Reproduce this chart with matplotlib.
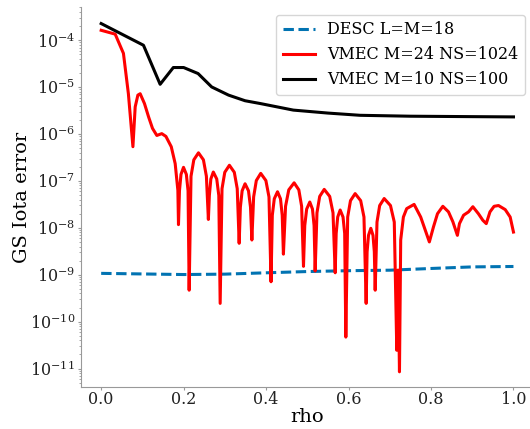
import matplotlib
matplotlib.use('Agg')
import matplotlib.pyplot as plt
import numpy as np

# DESC L=M=18
rho_desc = [0.0, 0.1, 0.2, 0.3, 0.4, 0.5, 0.6, 0.7, 0.8, 0.9, 1.0]
err_desc = [1.07e-9, 1.04e-9, 1.01e-9, 1.03e-9, 1.10e-9, 1.17e-9,
            1.22e-9, 1.25e-9, 1.36e-9, 1.47e-9, 1.50e-9]

# VMEC M=24 NS=1024
rho_vmec24 = [0.000, 0.034, 0.054, 0.066, 0.077, 0.0825, 0.089, 0.0946, 0.105, 0.115,
              0.1245, 0.135, 0.147, 0.157, 0.170, 0.1795, 0.186, 0.1875, 0.1899, 0.1936,
              0.1997, 0.2066, 0.2107, 0.2134, 0.2179, 0.2247, 0.236, 0.248, 0.2552, 0.260,
              0.2624, 0.266, 0.272, 0.2803, 0.2853, 0.2886, 0.2931, 0.2998, 0.311, 0.3229,
              0.330, 0.3347, 0.3376, 0.3419, 0.349, 0.3573, 0.3622, 0.3655, 0.3698, 0.3763,
              0.387, 0.3995, 0.407, 0.412, 0.4151, 0.4199, 0.4277, 0.4349, 0.4391, 0.442,
              0.4472, 0.455, 0.468, 0.4794, 0.4862, 0.4907, 0.4938, 0.4984, 0.506, 0.5125,
              0.5164, 0.519, 0.5234, 0.530, 0.541, 0.5543, 0.5623, 0.5676, 0.570, 0.5737,
              0.5797, 0.5866, 0.5906, 0.5934, 0.5979, 0.6047, 0.616, 0.6294, 0.6374, 0.6427,
              0.645, 0.6484, 0.654, 0.6593, 0.6625, 0.6646, 0.669, 0.6755, 0.6864, 0.7017,
              0.7109, 0.717, 0.720, 0.7235, 0.7265, 0.733, 0.741, 0.759, 0.775, 0.786,
              0.796, 0.806, 0.8157, 0.8287, 0.8424, 0.853, 0.864, 0.869, 0.879, 0.891,
              0.9015, 0.915, 0.9257, 0.934, 0.943, 0.953, 0.9637, 0.980, 0.992, 1.000]
err_vmec24 = [1.63e-4, 1.35e-4, 5.25e-5, 7.24e-6, 5.37e-7, 3.80e-6, 6.76e-6, 7.24e-6, 4.47e-6, 2.32e-6,
              1.32e-6, 9.33e-7, 1.02e-6, 8.91e-7, 5.37e-7, 2.34e-7, 6.31e-8, 1.17e-8, 6.17e-8, 1.38e-7,
              1.95e-7, 1.38e-7, 6.17e-8, 4.68e-10, 1.26e-7, 2.82e-7, 3.98e-7, 2.82e-7, 1.26e-7, 1.51e-8,
              4.90e-8, 1.10e-7, 1.55e-7, 1.10e-7, 4.90e-8, 2.45e-10, 6.84e-8, 1.53e-7, 2.16e-7, 1.53e-7,
              6.84e-8, 4.68e-9, 2.75e-8, 6.17e-8, 8.71e-8, 6.17e-8, 2.75e-8, 5.50e-9, 4.57e-8, 1.02e-7,
              1.45e-7, 1.02e-7, 4.57e-8, 7.08e-10, 1.86e-8, 4.17e-8, 5.89e-8, 4.17e-8, 1.86e-8, 2.75e-9,
              2.88e-8, 6.46e-8, 9.12e-8, 6.46e-8, 2.88e-8, 1.51e-9, 1.12e-8, 2.51e-8, 3.55e-8, 2.51e-8,
              1.12e-8, 1.20e-9, 2.09e-8, 4.68e-8, 6.61e-8, 4.68e-8, 2.09e-8, 1.10e-9, 7.59e-9, 1.70e-8,
              2.40e-8, 1.70e-8, 7.59e-9, 4.68e-11, 1.70e-8, 3.80e-8, 5.37e-8, 3.80e-8, 1.70e-8, 2.45e-10,
              3.09e-9, 6.92e-9, 9.77e-9, 6.92e-9, 3.09e-9, 4.68e-10, 1.33e-8, 2.99e-8, 4.22e-8, 2.99e-8,
              1.33e-8, 2.45e-11, 1.26e-9, 8.51e-12, 5.50e-9, 1.70e-8, 2.57e-8, 3.16e-8, 1.70e-8, 8.91e-9,
              5.01e-9, 1.05e-8, 2.00e-8, 2.88e-8, 2.19e-8, 1.35e-8, 6.92e-9, 1.23e-8, 1.86e-8, 2.19e-8,
              2.82e-8, 2.00e-8, 1.45e-8, 1.23e-8, 2.19e-8, 2.88e-8, 2.99e-8, 2.45e-8, 1.70e-8, 8.13e-9]

# VMEC M=10 NS=100
rho_vmec10 = [0.0, 0.1026, 0.143, 0.175, 0.2, 0.235, 0.268, 0.309, 0.349, 0.386,
              0.466, 0.55, 0.628, 0.75, 0.9, 1.0]
err_vmec10 = [2.27e-4, 7.82e-5, 1.15e-5, 2.62e-5, 2.62e-5, 1.95e-5, 1.01e-5, 6.76e-6, 5.13e-6, 4.47e-6,
              3.24e-6, 2.80e-6, 2.51e-6, 2.40e-6, 2.35e-6, 2.32e-6]

plt.rcParams['font.family'] = 'DejaVu Serif'
plt.rcParams['mathtext.fontset'] = 'dejavuserif'
plt.rcParams['axes.unicode_minus'] = False

fig = plt.figure(figsize=(5.3, 4.29), dpi=100)
ax = fig.add_axes([0.152, 0.0986, 0.8557, 0.884])

ax.semilogy(rho_desc, err_desc, color='#0173b2', lw=2.2, ls='--', dashes=(3.4, 1.5),
            label='DESC L=M=18')
ax.semilogy(rho_vmec24, err_vmec24, color='red', lw=2.2, label='VMEC M=24 NS=1024')
ax.semilogy(rho_vmec10, err_vmec10, color='black', lw=2.2, label='VMEC M=10 NS=100')

ax.set_xlim(-0.05, 1.05)
ax.set_ylim(4.1e-12, 5.0e-4)

ax.spines['top'].set_visible(False)
ax.spines['right'].set_visible(False)
for s in ['left', 'bottom']:
    ax.spines[s].set_color('#999999')
ax.tick_params(which='both', colors='#999999', labelcolor='#222222', labelsize=11.5, pad=1.5)
ax.tick_params(axis='x', pad=0.8)
ax.tick_params(which='major', length=2.5)
ax.tick_params(which='minor', length=1.5)

ax.set_xlabel('rho', fontsize=14, labelpad=0)
ax.set_ylabel('GS Iota error', fontsize=14, labelpad=-1)

ax.legend(loc='upper right', bbox_to_anchor=(525 / 530, 1 - 15 / 429),
          bbox_transform=fig.transFigure, borderaxespad=0, fontsize=11.5)

fig.savefig('out.png', dpi=100)
